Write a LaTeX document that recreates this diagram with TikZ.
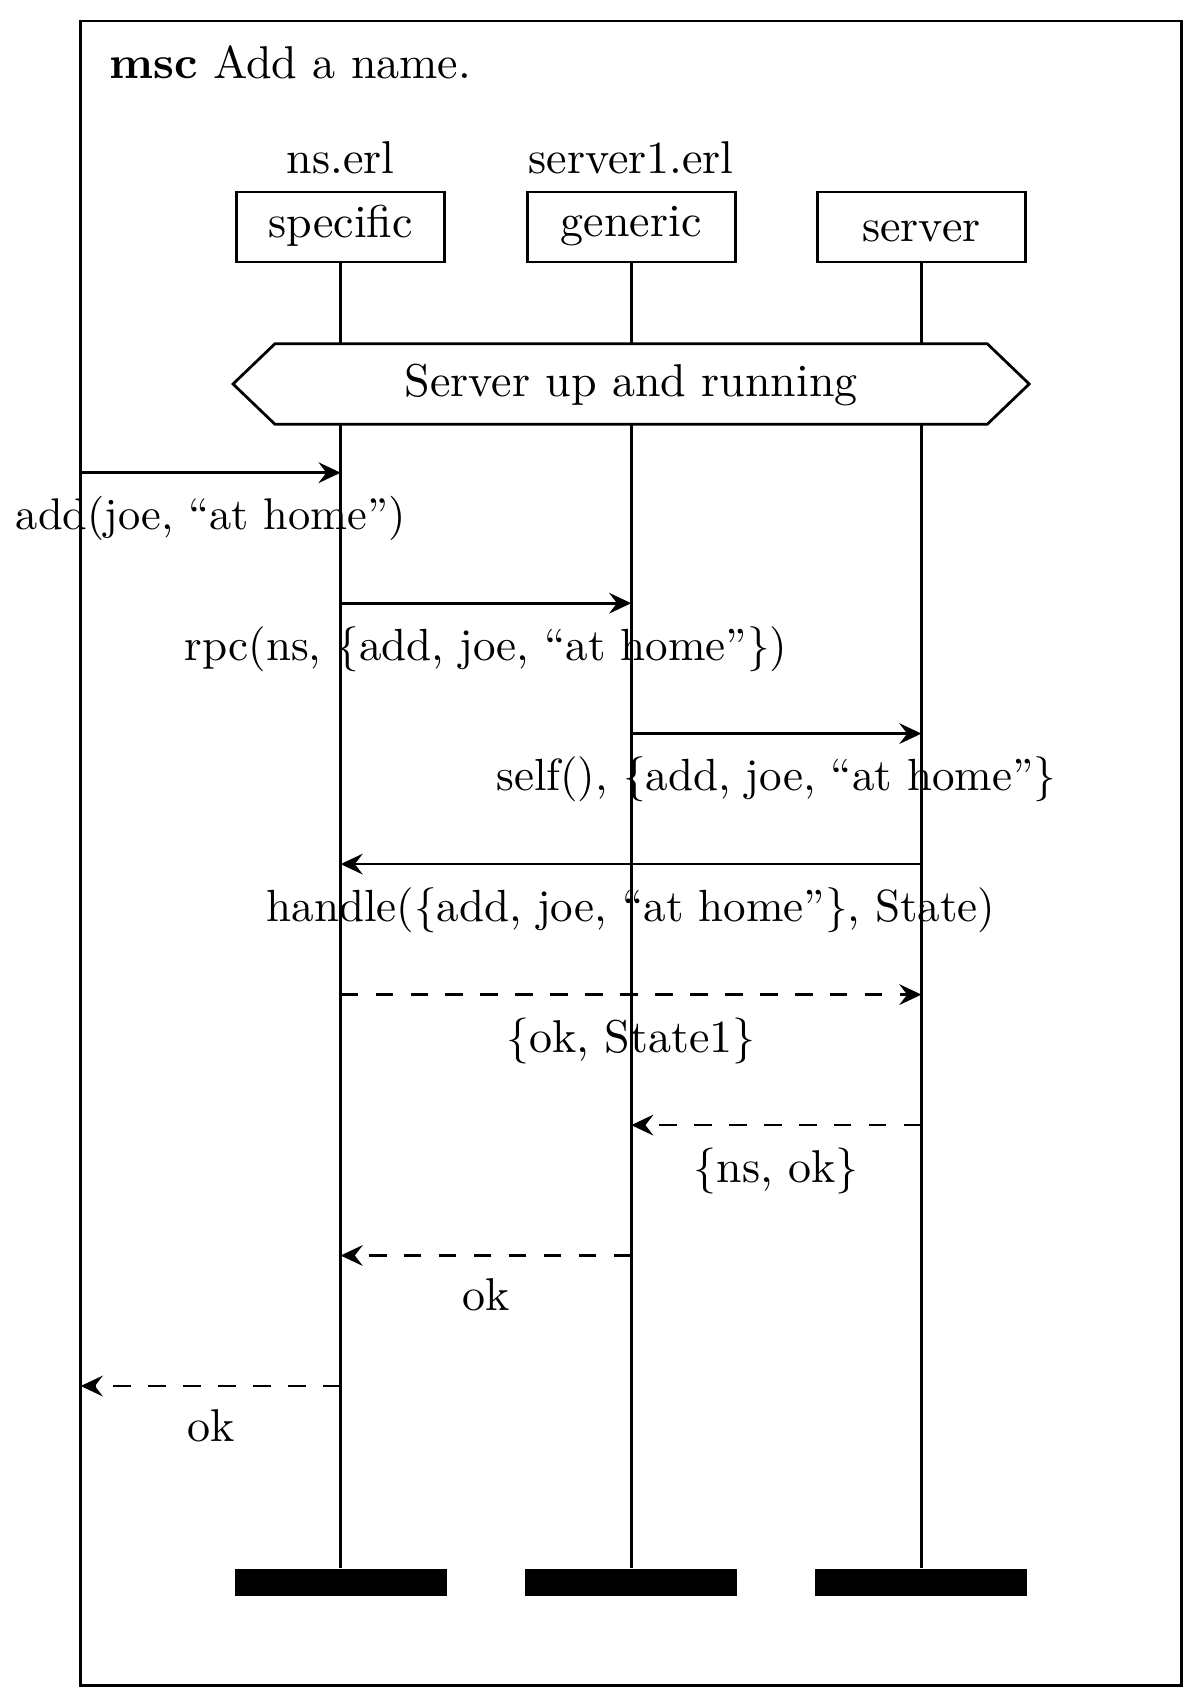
\documentclass[tikz,border=0pt]{standalone}
\usepackage{graphicx}
\usetikzlibrary{arrows.meta}
\newcommand{\lbltxt}[2][0.98]{\scalebox{#1}{#2}}
\begin{document}
\begin{tikzpicture}[x=0.2174pt,y=-0.2174pt,
  line width=0.6pt,
  instbox/.style={draw, rectangle, minimum width=45.2pt, minimum height=15.2pt, inner sep=0pt, text height=6.4pt},
  footbar/.style={fill=black, rectangle, minimum width=46.1pt, minimum height=5.8pt, inner sep=0pt},
  headlabel/.style={anchor=base, inner sep=0pt},
  msgarrow/.style={-{Stealth[length=4.8pt,width=4.5pt,inset=1.7pt]}},
  msgdash/.style={msgarrow, dash pattern=on 3.8pt off 3.8pt},
  msglabel/.style={midway, anchor=north, inner sep=0pt, yshift=-4.74pt}
]
\useasboundingbox (0,0) rectangle (1200,1700);
% frame
\draw (80.7,20.9) rectangle (1181.4,1685.3);
\coordinate (envL) at (80.7,0);
\node[anchor=base west, inner sep=0pt] (title) at (108,79) {\textbf{msc} Add a name.};
% instances
\node[instbox] (specific) at (340.6,227) {specific};
\node[instbox] (generic) at (631.2,227) {generic};
\node[instbox] (server) at (921.4,227) {server};
\node[headlabel] (nsl) at (340.6,173.3) {ns.erl};
\node[headlabel] (s1l) at (631.2,173.3) {server1.erl};
\node[footbar] (specificfoot) at (340.6,1582.4) {};
\node[footbar] (genericfoot) at (631.2,1582.4) {};
\node[footbar] (serverfoot) at (921.4,1582.4) {};
\draw (specific.south) -- (specificfoot.north);
\draw (generic.south) -- (genericfoot.north);
\draw (server.south) -- (serverfoot.north);
% condition
\draw[fill=white] (233,384) -- (275,343.7) -- (987.2,343.7) -- (1029.2,384) -- (987.2,424.3) -- (275,424.3) -- cycle;
\node[anchor=base, inner sep=0pt] (cond) at (631.2,396.7) {Server up and running};
% levels
\coordinate (L1) at (0,472.7);
\coordinate (L2) at (0,603.2);
\coordinate (L3) at (0,733.6);
\coordinate (L4) at (0,864.1);
\coordinate (L5) at (0,994.6);
\coordinate (L6) at (0,1125.1);
\coordinate (L7) at (0,1255.5);
\coordinate (L8) at (0,1386.0);
% messages
\draw[msgarrow] (envL |- L1) -- (specific |- L1) node[msglabel] (m1) {\lbltxt[0.965]{add(joe, ``at home'')}};
\draw[msgarrow] (specific |- L2) -- (generic |- L2) node[msglabel] (m2) {\lbltxt{rpc(ns, \{add, joe, ``at home''\})}};
\draw[msgarrow] (generic |- L3) -- (server |- L3) node[msglabel] (m3) {\lbltxt{self(), \{add, joe, ``at home''\}}};
\draw[msgarrow] (server |- L4) -- (specific |- L4) node[msglabel] (m4) {\lbltxt{handle(\{add, joe, ``at home''\}, State)}};
\draw[msgdash] (specific |- L5) -- (server |- L5) node[msglabel] (m5) {\{ok, State1\}};
\draw[msgdash] (server |- L6) -- (generic |- L6) node[msglabel] (m6) {\{ns, ok\}};
\draw[msgdash] (generic |- L7) -- (specific |- L7) node[msglabel] (m7) {ok};
\draw[msgdash] (specific |- L8) -- (envL |- L8) node[msglabel] (m8) {ok};
\end{tikzpicture}
\end{document}
